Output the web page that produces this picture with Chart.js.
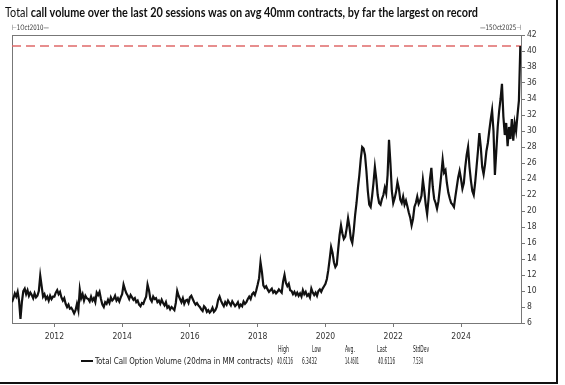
<!DOCTYPE html>
<html>
<head>
<meta charset="utf-8">
<script src="https://cdn.jsdelivr.net/npm/chart.js@4.4.1/dist/chart.umd.min.js"></script>
<style>
    html, body { margin: 0; padding: 0; background: #fff; }
    #wrap { position: relative; width: 565px; height: 385px; }
    #frame { position: absolute; left: 0; top: 0; width: 556px; height: 382px;
             border-right: 2px solid #111; border-bottom: 2px solid #111; pointer-events: none; }
</style>
</head>
<body>
<div id="wrap">
    <canvas id="chart" width="565" height="385"></canvas>
    <div id="frame"></div>
</div>
<script>
// semi-monthly readings of the 20dma, starting 1 Oct 2010
const startYear = 2010.75;
const stepYears = 1 / 24;
const xMax = 2025.77;

const vol2010 = [8.6, 9.1, 9.7, 9.3, 9.9, 8.8];
const vol2011 = [6.5, 8.6, 10.0, 10.3, 9.6, 10.1, 9.4, 9.8, 9.5, 9.1, 9.7, 9.2, 9.4, 10.0, 11.9, 10.6, 9.3, 9.6, 9.0, 9.3, 8.8, 9.4, 9.0, 9.3];
const vol2012 = [9.3, 9.8, 10.1, 9.6, 9.9, 9.2, 8.8, 9.1, 8.4, 8.0, 8.3, 7.8, 7.9, 7.6, 7.2, 7.6, 8.4, 7.6, 10.2, 9.1, 9.6, 8.8, 9.4, 9.1];
const vol2013 = [9.0, 8.7, 9.3, 8.8, 9.1, 8.6, 9.8, 9.5, 9.9, 9.0, 8.3, 8.0, 8.6, 8.4, 8.9, 8.5, 9.2, 8.8, 9.0, 9.4, 8.8, 9.1, 8.7, 9.2];
const vol2014 = [9.6, 10.8, 10.2, 9.7, 9.4, 9.0, 9.5, 9.2, 8.9, 9.1, 8.6, 8.8, 8.3, 8.1, 8.5, 8.4, 8.9, 9.3, 10.8, 10.1, 9.0, 8.7, 9.3, 9.0];
const vol2015 = [9.1, 8.6, 8.8, 8.4, 8.9, 8.5, 8.2, 8.6, 7.9, 8.1, 7.7, 8.0, 7.8, 7.6, 8.5, 10.0, 9.4, 9.0, 8.6, 9.1, 8.4, 8.8, 8.9, 8.5];
const vol2016 = [9.2, 9.4, 9.0, 8.6, 8.3, 8.5, 8.2, 8.0, 7.7, 7.5, 8.1, 7.9, 7.4, 7.6, 7.3, 7.5, 7.9, 7.4, 7.6, 8.0, 8.9, 9.3, 8.8, 8.4];
const vol2017 = [8.1, 8.6, 8.3, 8.8, 8.5, 8.2, 8.7, 8.4, 8.1, 8.3, 8.6, 8.0, 8.3, 8.1, 8.7, 8.4, 8.6, 9.0, 9.3, 9.0, 9.6, 9.8, 9.5, 10.1];
const vol2018 = [10.8, 11.6, 13.6, 12.4, 10.7, 10.4, 10.6, 10.2, 9.9, 10.1, 10.3, 9.8, 10.0, 9.7, 9.9, 10.2, 10.0, 9.8, 11.2, 12.0, 11.0, 10.6, 10.9, 10.1];
const vol2019 = [10.0, 9.6, 9.9, 9.5, 9.8, 9.4, 9.7, 9.3, 10.1, 9.6, 9.9, 9.4, 9.6, 9.2, 10.3, 9.8, 9.5, 9.8, 9.4, 10.0, 10.2, 9.9, 10.3, 10.6];
const vol2020 = [10.9, 11.5, 12.6, 14.0, 15.5, 14.8, 13.6, 13.0, 13.3, 15.2, 17.0, 18.2, 17.2, 16.5, 16.8, 17.8, 19.1, 18.0, 16.5, 16.0, 17.5, 19.5, 21.0, 22.9];
const vol2021 = [24.5, 26.5, 28.0, 27.8, 27.0, 25.0, 22.5, 20.8, 20.5, 21.8, 23.5, 25.5, 24.0, 22.0, 21.0, 20.8, 21.5, 22.0, 22.9, 22.2, 24.5, 28.9, 26.0, 22.5];
const vol2022 = [21.0, 21.6, 22.4, 23.6, 22.8, 21.4, 21.0, 21.8, 20.8, 21.3, 20.6, 19.8, 19.2, 18.2, 19.0, 20.5, 21.0, 21.8, 20.9, 21.3, 21.9, 23.9, 22.5, 20.8];
const vol2023 = [19.6, 21.5, 24.0, 25.4, 23.0, 21.5, 21.0, 20.3, 21.2, 22.8, 24.5, 26.4, 24.8, 25.1, 23.5, 22.3, 21.6, 21.0, 20.8, 20.5, 21.8, 23.0, 24.2, 25.0];
const vol2024 = [24.0, 22.8, 23.5, 25.5, 27.0, 28.0, 25.5, 23.8, 22.5, 22.0, 23.5, 25.5, 27.5, 29.75, 28.0, 25.5, 24.6, 25.8, 27.5, 28.5, 30.0, 31.4, 32.6, 30.0];
const vol2025 = [24.5, 27.5, 30.5, 32.5, 34.0, 35.9, 31.8, 29.5, 31.0, 28.1, 30.5, 29.0, 31.5, 28.8, 31.0, 30.0, 32.0, 33.8, 40.6116];

const recordHigh = 40.6116;
const tickYears = [2012, 2014, 2016, 2018, 2020, 2022, 2024];
const yTicks = [6, 8, 10, 12, 14, 16, 18, 20, 22, 24, 26, 28, 30, 32, 34, 36, 38, 40, 42];

const titleLead = "Total ";
const titleBold = "call volume over the last 20 sessions was on avg 40mm contracts, by far the largest on record";
const startLabel = "\u22A21Oct2010\u2014";
const endLabel = "\u201415Oct2025\u22A3";
const seriesName = "Total Call Option Volume (20dma in MM contracts)";
const statLabels = ["High", "Low", "Avg.", "Last", "StdDev"];
const statValues = ["40.6116", "6.3432", "14.4601", "40.6116", "7.534"];

const series = [].concat(vol2010, vol2011, vol2012, vol2013, vol2014, vol2015, vol2016, vol2017,
    vol2018, vol2019, vol2020, vol2021, vol2022, vol2023, vol2024, vol2025);
const points = series.map(function (v, i) {
    return { x: startYear + i * stepYears, y: v };
});

const narrow = '"Liberation Sans Narrow", "DejaVu Sans Condensed", sans-serif';

// draw text squeezed / stretched to a given width
function fitText(ctx, text, x, y, width, font) {
    ctx.font = font;
    var w = ctx.measureText(text).width;
    ctx.save();
    ctx.translate(x, y);
    ctx.scale(width / w, 1);
    ctx.fillText(text, 0, 0);
    ctx.restore();
}

const boxPlugin = {
    id: "box",
    beforeDatasetsDraw: function (chart) {
        var ctx = chart.ctx, a = chart.chartArea;
        ctx.save();
        ctx.strokeStyle = "#777";
        ctx.lineWidth = 1;
        ctx.strokeRect(a.left + 0.5, a.top + 0.5, a.right - a.left, a.bottom - a.top);
        ctx.restore();
    },
    afterDraw: function (chart) {
        var ctx = chart.ctx, a = chart.chartArea;
        ctx.save();
        ctx.fillStyle = "#111";
        ctx.textBaseline = "alphabetic";

        // title: regular lead word + bold rest
        var tf = '12.5px Lato, "Open Sans", sans-serif';
        var bf = 'bold 12.5px Lato, "Open Sans", sans-serif';
        ctx.font = tf;
        var w1 = ctx.measureText(titleLead).width;
        ctx.font = bf;
        var w2 = ctx.measureText(titleBold).width;
        var sx = 473 / (w1 + w2);
        ctx.save();
        ctx.translate(5, 17);
        ctx.scale(sx, 1);
        ctx.font = tf;
        ctx.fillText(titleLead, 0, 0);
        ctx.font = bf;
        ctx.fillText(titleBold, w1, 0);
        ctx.restore();

        // date range labels above the box
        ctx.fillStyle = "#333";
        fitText(ctx, startLabel, a.left, a.top - 5, 37, "7.5px " + narrow);
        fitText(ctx, endLabel, a.right - 41, a.top - 5, 41, "7.5px " + narrow);

        // legend + stats
        ctx.fillStyle = "#222";
        ctx.strokeStyle = "#111";
        ctx.lineWidth = 2;
        ctx.beginPath();
        ctx.moveTo(81, 361);
        ctx.lineTo(93, 361);
        ctx.stroke();
        fitText(ctx, seriesName, 95, 364, 178, "8.5px " + narrow);
        var headX = [278, 312, 345, 377, 413];
        var headW = [11, 9, 10, 10, 16];
        var valX = [277, 302, 345, 378, 413];
        var valW = [16, 15, 14, 17, 10];
        for (var i = 0; i < statLabels.length; i++) {
            fitText(ctx, statLabels[i], headX[i], 352, headW[i], "8.5px " + narrow);
            fitText(ctx, statValues[i], valX[i], 364, valW[i], "8.5px " + narrow);
        }
        ctx.restore();
    },
};

const ctx = document.getElementById("chart").getContext("2d");
const myChart = new Chart(ctx, {
    type: "line",
    data: {
        datasets: [
            {
                label: seriesName,
                data: points,
                borderColor: "#111",
                borderWidth: 2.2,
                pointRadius: 0,
                tension: 0,
            },
            {
                label: "record",
                data: [{ x: startYear, y: recordHigh }, { x: xMax, y: recordHigh }],
                borderColor: "#e06a6a",
                borderWidth: 1.5,
                borderDash: [9, 5],
                pointRadius: 0,
            },
        ],
    },
    options: {
        responsive: false,
        animation: false,
        layout: { padding: { left: 12, top: 35, right: 0, bottom: 0 } },
        plugins: { legend: { display: false }, tooltip: { enabled: false } },
        scales: {
            x: {
                type: "linear",
                min: startYear,
                max: xMax,
                afterBuildTicks: function (scale) {
                    scale.ticks = tickYears.map(function (v) { return { value: v }; });
                },
                afterFit: function (scale) { scale.height = 62; },
                ticks: {
                    autoSkip: false,
                    maxRotation: 0,
                    padding: 5,
                    color: "#333",
                    font: { family: narrow, size: 8.5 },
                    callback: function (v) { return String(v); },
                },
                grid: { drawOnChartArea: false, tickLength: 4, color: "#777" },
                border: { color: "#777" },
            },
            y: {
                type: "linear",
                position: "right",
                min: 6,
                max: 42,
                afterBuildTicks: function (scale) {
                    scale.ticks = yTicks.map(function (v) { return { value: v }; });
                },
                afterFit: function (scale) { scale.width = 44; },
                ticks: {
                    autoSkip: false,
                    padding: 2,
                    color: "#333",
                    font: { family: narrow, size: 8.5 },
                },
                grid: { drawOnChartArea: false, tickLength: 4, color: "#777" },
                border: { color: "#777" },
            },
        },
    },
    plugins: [boxPlugin],
});
</script>
</body>
</html>
